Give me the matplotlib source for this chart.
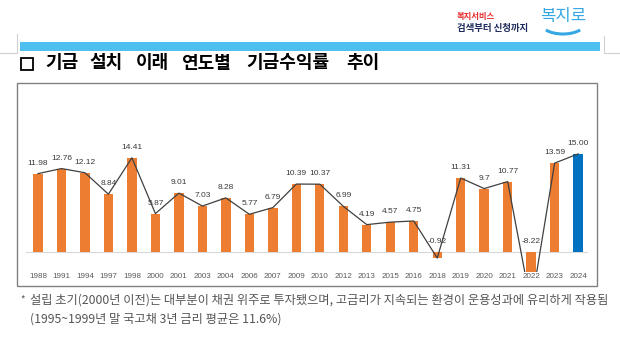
import matplotlib
matplotlib.use("Agg")
import matplotlib.pyplot as plt
from matplotlib.patches import Rectangle, Arc

plt.rcParams['font.family'] = ['Noto Sans CJK KR', 'DejaVu Sans']

years = ['1988', '1991', '1994', '1997', '1998', '2000', '2001', '2003', '2004', '2006',
         '2007', '2009', '2010', '2012', '2013', '2015', '2016', '2018', '2019', '2020',
         '2021', '2022', '2023', '2024']
returns = [11.98, 12.76, 12.12, 8.84, 14.41, 5.87, 9.01, 7.03, 8.28, 5.77,
           6.79, 10.39, 10.37, 6.99, 4.19, 4.57, 4.75, -0.92, 11.31, 9.7,
           10.77, -8.22, 13.59, 15.00]
value_labels = ['11.98', '12.76', '12.12', '8.84', '14.41', '5.87', '9.01', '7.03', '8.28', '5.77',
                '6.79', '10.39', '10.37', '6.99', '4.19', '4.57', '4.75', '-0.92', '11.31', '9.7',
                '10.77', '-8.22', '13.59', '15.00']

title_words = ['기금', '설치', '이래', '연도별', '기금수익률', '추이']
title_x = [45, 89, 136, 181, 246, 346]
note1 = '설립 초기(2000년 이전)는 대부분이 채권 위주로 투자됐으며, 고금리가 지속되는 환경이 운용성과에 유리하게 작용됨'
note2 = '(1995~1999년 말 국고채 3년 금리 평균은 11.6%)'

W, H = 620, 338
fig = plt.figure(figsize=(W / 100, H / 100), dpi=100)
fig.patch.set_facecolor('white')

# page decorations in pixel coordinates
bg = fig.add_axes([0, 0, 1, 1])
bg.set_xlim(0, W)
bg.set_ylim(H, 0)
bg.axis('off')

bg.add_patch(Rectangle((20, 42), 580, 9, facecolor='#4DC0EF', edgecolor='none'))
bg.plot([0, 17, 17], [53, 53, 34], color='#D0D0D0', lw=0.8)
bg.plot([604, 604, 620], [36, 53, 53], color='#D0D0D0', lw=0.8)

bg.add_patch(Rectangle((20.5, 57.5), 12, 12, facecolor='none', edgecolor='black', lw=1.3))
for word, wx in zip(title_words, title_x):
    bg.text(wx, 63, word, fontsize=13, fontweight='bold', va='center', ha='left', color='black')

# logo
bg.text(457, 16, '복지서비스', fontsize=6, fontweight='bold', color='#E52B2B', va='center')
bg.text(457, 27.5, '검색부터 신청까지', fontsize=6.8, fontweight='bold', color='#1E2B5C', va='center')
bg.text(563, 17, '복지로', fontsize=12, color='#35A8E4', va='center', ha='center')
bg.add_patch(Arc((563, 22), 46, 24, theta1=25, theta2=155, color='#35A8E4', lw=2.2))

# chart frame
bg.add_patch(Rectangle((17, 83), 580, 203, facecolor='none', edgecolor='#808080', lw=1))

# footnote
bg.text(20, 300, '*', fontsize=7, color='#606060', va='center')
bg.text(30, 300, note1, fontsize=8.8, color='#555555', va='center')
bg.text(30, 319, note2, fontsize=8.8, color='#555555', va='center')

# bar + line chart
ax = fig.add_axes([26 / W, (H - 272) / H, (588 - 26) / W, (272 - 95) / H])
x = list(range(len(years)))
colors = ['#ED7D31'] * (len(years) - 1) + ['#0070C0']
ax.bar(x, returns, width=0.4, color=colors, zorder=2)
ax.plot(x, returns, color='#404040', lw=0.9, zorder=3)
ax.axhline(0, color='#D9D9D9', lw=0.8, zorder=1)

for xi, v, lab in zip(x, returns, value_labels):
    y0 = max(v, 0)
    ax.annotate(lab, (xi, y0), xytext=(0, 5), textcoords='offset points',
                ha='center', va='bottom', fontsize=6, color='#3A3A3A',
                family=['Liberation Sans Narrow', 'Liberation Sans'])

ax.set_xlim(-0.51, 23.42)
ax.set_ylim(-3.05, 24.0)
ax.set_xticks(x)
ax.set_xticklabels(years, fontsize=5.8, color='#595959',
                   family=['Liberation Sans Narrow', 'Liberation Sans'])
ax.tick_params(axis='x', length=0, pad=1)
ax.set_yticks([])
for s in ax.spines.values():
    s.set_visible(False)
ax.patch.set_alpha(0)

fig.savefig('out.png', dpi=100)
